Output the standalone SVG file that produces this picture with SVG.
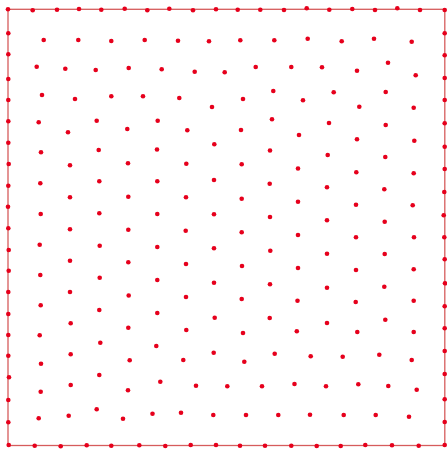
<svg xmlns="http://www.w3.org/2000/svg" width="447" height="449" viewBox="0 0 447 449">
<style>
.d circle{fill:#e6001c}
.b{fill:none;stroke:#d65c5c;stroke-width:1.3}
</style>
<rect width="447" height="449" fill="#fff"/>
<rect class="b" x="8" y="9.3" width="436.8" height="436.2"/>
<g id="boundary" class="d">
<circle cx="8" cy="9.3" r="2.3"/><circle cx="32.7" cy="10.3" r="2.3"/><circle cx="57" cy="9.7" r="2.3"/><circle cx="79" cy="9" r="2.3"/><circle cx="101.3" cy="9.7" r="2.3"/><circle cx="124.7" cy="8.7" r="2.3"/><circle cx="147.3" cy="10.3" r="2.3"/><circle cx="169.3" cy="8.7" r="2.3"/><circle cx="193" cy="10.3" r="2.3"/><circle cx="216" cy="9.3" r="2.3"/><circle cx="237.7" cy="9.7" r="2.3"/><circle cx="260.3" cy="9.7" r="2.3"/><circle cx="284" cy="10" r="2.3"/><circle cx="306.7" cy="8.3" r="2.3"/><circle cx="329.3" cy="9.7" r="2.3"/><circle cx="352.3" cy="9" r="2.3"/><circle cx="375" cy="10" r="2.3"/><circle cx="397.3" cy="8.3" r="2.3"/><circle cx="420" cy="10" r="2.3"/><circle cx="444.7" cy="10" r="2.3"/>
<circle cx="8.3" cy="33.3" r="2.3"/><circle cx="8.3" cy="54.3" r="2.3"/><circle cx="8.3" cy="79" r="2.3"/><circle cx="8.3" cy="100" r="2.3"/><circle cx="8.3" cy="121.3" r="2.3"/><circle cx="8.3" cy="142.7" r="2.3"/><circle cx="8.7" cy="164" r="2.3"/><circle cx="8.3" cy="185.7" r="2.3"/><circle cx="8" cy="206.7" r="2.3"/><circle cx="8.3" cy="228.3" r="2.3"/><circle cx="8.7" cy="250" r="2.3"/><circle cx="8.7" cy="270.7" r="2.3"/><circle cx="8.3" cy="292" r="2.3"/><circle cx="8.3" cy="314" r="2.3"/><circle cx="8.3" cy="335" r="2.3"/><circle cx="8.3" cy="355.7" r="2.3"/><circle cx="9" cy="377.3" r="2.3"/><circle cx="8.3" cy="400" r="2.3"/><circle cx="8.3" cy="422.3" r="2.3"/><circle cx="8.7" cy="445" r="2.3"/>
<circle cx="444.7" cy="33.3" r="2.3"/><circle cx="444.7" cy="55.3" r="2.3"/><circle cx="444.7" cy="78" r="2.3"/><circle cx="444.7" cy="100" r="2.3"/><circle cx="444.7" cy="123.3" r="2.3"/><circle cx="444.7" cy="146.7" r="2.3"/><circle cx="444.7" cy="169" r="2.3"/><circle cx="444.3" cy="192" r="2.3"/><circle cx="443.7" cy="215.3" r="2.3"/><circle cx="444.3" cy="237.3" r="2.3"/><circle cx="444.7" cy="259.3" r="2.3"/><circle cx="445" cy="283.3" r="2.3"/><circle cx="444.7" cy="306.3" r="2.3"/><circle cx="444.7" cy="328.3" r="2.3"/><circle cx="444.7" cy="351" r="2.3"/><circle cx="444.7" cy="374" r="2.3"/><circle cx="444.7" cy="399.3" r="2.3"/><circle cx="444.7" cy="422" r="2.3"/><circle cx="444.7" cy="445" r="2.3"/>
<circle cx="34.7" cy="445.7" r="2.3"/><circle cx="60.7" cy="446.3" r="2.3"/><circle cx="86.7" cy="445.3" r="2.3"/><circle cx="111.3" cy="445.7" r="2.3"/><circle cx="139.3" cy="445.3" r="2.3"/><circle cx="165.3" cy="446" r="2.3"/><circle cx="190.7" cy="445" r="2.3"/><circle cx="216" cy="445" r="2.3"/><circle cx="240" cy="445.7" r="2.3"/><circle cx="265" cy="445.7" r="2.3"/><circle cx="291.3" cy="445.7" r="2.3"/><circle cx="316.7" cy="446" r="2.3"/><circle cx="340.7" cy="446" r="2.3"/><circle cx="365.3" cy="445" r="2.3"/><circle cx="392" cy="445.3" r="2.3"/><circle cx="418.7" cy="445.7" r="2.3"/>
</g>
<g id="interior" class="d">
<circle cx="43.7" cy="40" r="2.3"/><circle cx="78.3" cy="40" r="2.3"/><circle cx="111.3" cy="41" r="2.3"/><circle cx="144.7" cy="40" r="2.3"/><circle cx="178" cy="40.7" r="2.3"/><circle cx="209" cy="41.3" r="2.3"/><circle cx="240.3" cy="40.3" r="2.3"/><circle cx="274.3" cy="40.3" r="2.3"/><circle cx="307.7" cy="38.7" r="2.3"/><circle cx="341.7" cy="41.3" r="2.3"/><circle cx="374" cy="38.7" r="2.3"/><circle cx="411.7" cy="41.7" r="2.3"/>
<circle cx="36.7" cy="66.7" r="2.3"/><circle cx="65.3" cy="68.7" r="2.3"/><circle cx="95.7" cy="70" r="2.3"/><circle cx="128.7" cy="68" r="2.3"/><circle cx="161.7" cy="69.3" r="2.3"/><circle cx="194.7" cy="71.7" r="2.3"/><circle cx="224.7" cy="72.3" r="2.3"/><circle cx="255.7" cy="67" r="2.3"/><circle cx="291.3" cy="67" r="2.3"/><circle cx="322" cy="67.3" r="2.3"/><circle cx="357" cy="70.7" r="2.3"/><circle cx="388" cy="62.7" r="2.3"/><circle cx="415.7" cy="75.3" r="2.3"/>
<circle cx="42" cy="95" r="2.3"/><circle cx="75" cy="99" r="2.3"/><circle cx="111.3" cy="96.3" r="2.3"/><circle cx="143" cy="96.3" r="2.3"/><circle cx="179.3" cy="98" r="2.3"/><circle cx="212" cy="107" r="2.3"/><circle cx="243" cy="99" r="2.3"/><circle cx="273.3" cy="91" r="2.3"/><circle cx="303" cy="100.3" r="2.3"/><circle cx="333.7" cy="92.3" r="2.3"/><circle cx="359.3" cy="106.7" r="2.3"/><circle cx="385.7" cy="92" r="2.3"/><circle cx="413.7" cy="107.7" r="2.3"/>
<circle cx="38.7" cy="122.3" r="2.3"/><circle cx="68" cy="132.3" r="2.3"/><circle cx="96.7" cy="120.7" r="2.3"/><circle cx="127.3" cy="129" r="2.3"/><circle cx="157.7" cy="120.7" r="2.3"/><circle cx="187.3" cy="130.3" r="2.3"/><circle cx="214.3" cy="144.3" r="2.3"/><circle cx="241" cy="130" r="2.3"/><circle cx="272" cy="119.3" r="2.3"/><circle cx="299" cy="135" r="2.3"/><circle cx="329" cy="123" r="2.3"/><circle cx="357" cy="139.3" r="2.3"/><circle cx="385.7" cy="125" r="2.3"/><circle cx="414.3" cy="140.7" r="2.3"/>
<circle cx="41" cy="152.3" r="2.3"/><circle cx="98.7" cy="150" r="2.3"/><circle cx="157" cy="149.5" r="2.3"/><circle cx="270" cy="150.5" r="2.3"/><circle cx="327.7" cy="155" r="2.3"/><circle cx="385.3" cy="157" r="2.3"/>
<circle cx="70" cy="165.3" r="2.3"/><circle cx="128" cy="163.3" r="2.3"/><circle cx="186.3" cy="163.7" r="2.3"/><circle cx="241.7" cy="164.3" r="2.3"/><circle cx="298" cy="168.5" r="2.3"/><circle cx="356.3" cy="172.3" r="2.3"/><circle cx="413.7" cy="173.3" r="2.3"/>
<circle cx="40.3" cy="183.3" r="2.3"/><circle cx="99.3" cy="181.3" r="2.3"/><circle cx="157.3" cy="181.3" r="2.3"/><circle cx="214" cy="180" r="2.3"/><circle cx="269.7" cy="183.7" r="2.3"/><circle cx="327" cy="187.3" r="2.3"/><circle cx="384.3" cy="189.3" r="2.3"/>
<circle cx="70" cy="197.3" r="2.3"/><circle cx="128.3" cy="196.7" r="2.3"/><circle cx="186" cy="197.3" r="2.3"/><circle cx="241.7" cy="198.7" r="2.3"/><circle cx="298" cy="201.7" r="2.3"/><circle cx="356" cy="204.7" r="2.3"/><circle cx="412.7" cy="205.3" r="2.3"/>
<circle cx="40.7" cy="214" r="2.3"/><circle cx="99.3" cy="213.3" r="2.3"/><circle cx="157.3" cy="214" r="2.3"/><circle cx="214" cy="214.3" r="2.3"/><circle cx="270" cy="217" r="2.3"/><circle cx="327" cy="220.3" r="2.3"/><circle cx="384.7" cy="221.7" r="2.3"/>
<circle cx="70" cy="229.3" r="2.3"/><circle cx="128.3" cy="229.7" r="2.3"/><circle cx="185.7" cy="230.7" r="2.3"/><circle cx="241.7" cy="232.3" r="2.3"/><circle cx="298" cy="235" r="2.3"/><circle cx="356" cy="237.3" r="2.3"/><circle cx="414" cy="237.3" r="2.3"/>
<circle cx="39.7" cy="244.7" r="2.3"/><circle cx="99.7" cy="245.7" r="2.3"/><circle cx="157.3" cy="247" r="2.3"/><circle cx="214" cy="248.3" r="2.3"/><circle cx="270.3" cy="250.7" r="2.3"/><circle cx="327" cy="253.7" r="2.3"/><circle cx="384.7" cy="254" r="2.3"/>
<circle cx="70" cy="260.7" r="2.3"/><circle cx="128.3" cy="262.3" r="2.3"/><circle cx="186" cy="264" r="2.3"/><circle cx="242" cy="266" r="2.3"/><circle cx="298" cy="268" r="2.3"/><circle cx="356" cy="270" r="2.3"/><circle cx="413.7" cy="269.3" r="2.3"/>
<circle cx="40.3" cy="275" r="2.3"/><circle cx="99.7" cy="277.7" r="2.3"/><circle cx="157.3" cy="280" r="2.3"/><circle cx="214" cy="282.7" r="2.3"/><circle cx="270" cy="284.3" r="2.3"/><circle cx="327" cy="287.7" r="2.3"/><circle cx="384.3" cy="286.7" r="2.3"/>
<circle cx="70" cy="292" r="2.3"/><circle cx="128.7" cy="295.5" r="2.3"/><circle cx="186" cy="297" r="2.3"/><circle cx="241.7" cy="299" r="2.3"/><circle cx="297.5" cy="300.8" r="2.3"/><circle cx="355.7" cy="302" r="2.3"/><circle cx="413.7" cy="300.7" r="2.3"/>
<circle cx="40.7" cy="305.3" r="2.3"/><circle cx="99.3" cy="310" r="2.3"/><circle cx="157.3" cy="313" r="2.3"/><circle cx="214.7" cy="317.7" r="2.3"/><circle cx="269.7" cy="318" r="2.3"/><circle cx="327" cy="323" r="2.3"/><circle cx="385.3" cy="319.7" r="2.3"/>
<circle cx="70.7" cy="323.3" r="2.3"/><circle cx="128.3" cy="327.7" r="2.3"/><circle cx="186.3" cy="330" r="2.3"/><circle cx="243" cy="333" r="2.3"/><circle cx="296.8" cy="331.3" r="2.3"/><circle cx="357.3" cy="332" r="2.3"/><circle cx="413.7" cy="332" r="2.3"/>
<circle cx="39.7" cy="335.3" r="2.3"/><circle cx="100.3" cy="342.7" r="2.3"/><circle cx="156.3" cy="346" r="2.3"/><circle cx="213.7" cy="352.7" r="2.3"/><circle cx="274.7" cy="353.7" r="2.3"/>
<circle cx="70.7" cy="354.3" r="2.3"/><circle cx="129.7" cy="360.3" r="2.3"/><circle cx="183.3" cy="360" r="2.3"/><circle cx="244.3" cy="361.7" r="2.3"/><circle cx="310.7" cy="356.3" r="2.3"/><circle cx="342.7" cy="356.7" r="2.3"/><circle cx="379.3" cy="354.7" r="2.3"/><circle cx="411.7" cy="360" r="2.3"/>
<circle cx="41" cy="363.7" r="2.3"/><circle cx="99.3" cy="375" r="2.3"/>
<circle cx="70.7" cy="385" r="2.3"/><circle cx="128" cy="390.3" r="2.3"/><circle cx="160.3" cy="381.7" r="2.3"/><circle cx="196" cy="385.7" r="2.3"/><circle cx="227.3" cy="386.3" r="2.3"/><circle cx="262" cy="386.3" r="2.3"/><circle cx="294.5" cy="384" r="2.3"/><circle cx="326" cy="386.3" r="2.3"/><circle cx="358.3" cy="384.3" r="2.3"/><circle cx="388.3" cy="386" r="2.3"/><circle cx="416.7" cy="389.7" r="2.3"/>
<circle cx="40.7" cy="391.7" r="2.3"/>
<circle cx="38.7" cy="418.3" r="2.3"/><circle cx="68.7" cy="415.7" r="2.3"/><circle cx="96.7" cy="409.3" r="2.3"/><circle cx="123" cy="418.7" r="2.3"/><circle cx="152.5" cy="413.7" r="2.3"/><circle cx="181" cy="412.7" r="2.3"/><circle cx="213.3" cy="415" r="2.3"/><circle cx="246" cy="415" r="2.3"/><circle cx="278.3" cy="415" r="2.3"/><circle cx="310" cy="414.7" r="2.3"/><circle cx="343.7" cy="415" r="2.3"/><circle cx="375.7" cy="415" r="2.3"/><circle cx="409" cy="416.7" r="2.3"/>
</g>
</svg>
